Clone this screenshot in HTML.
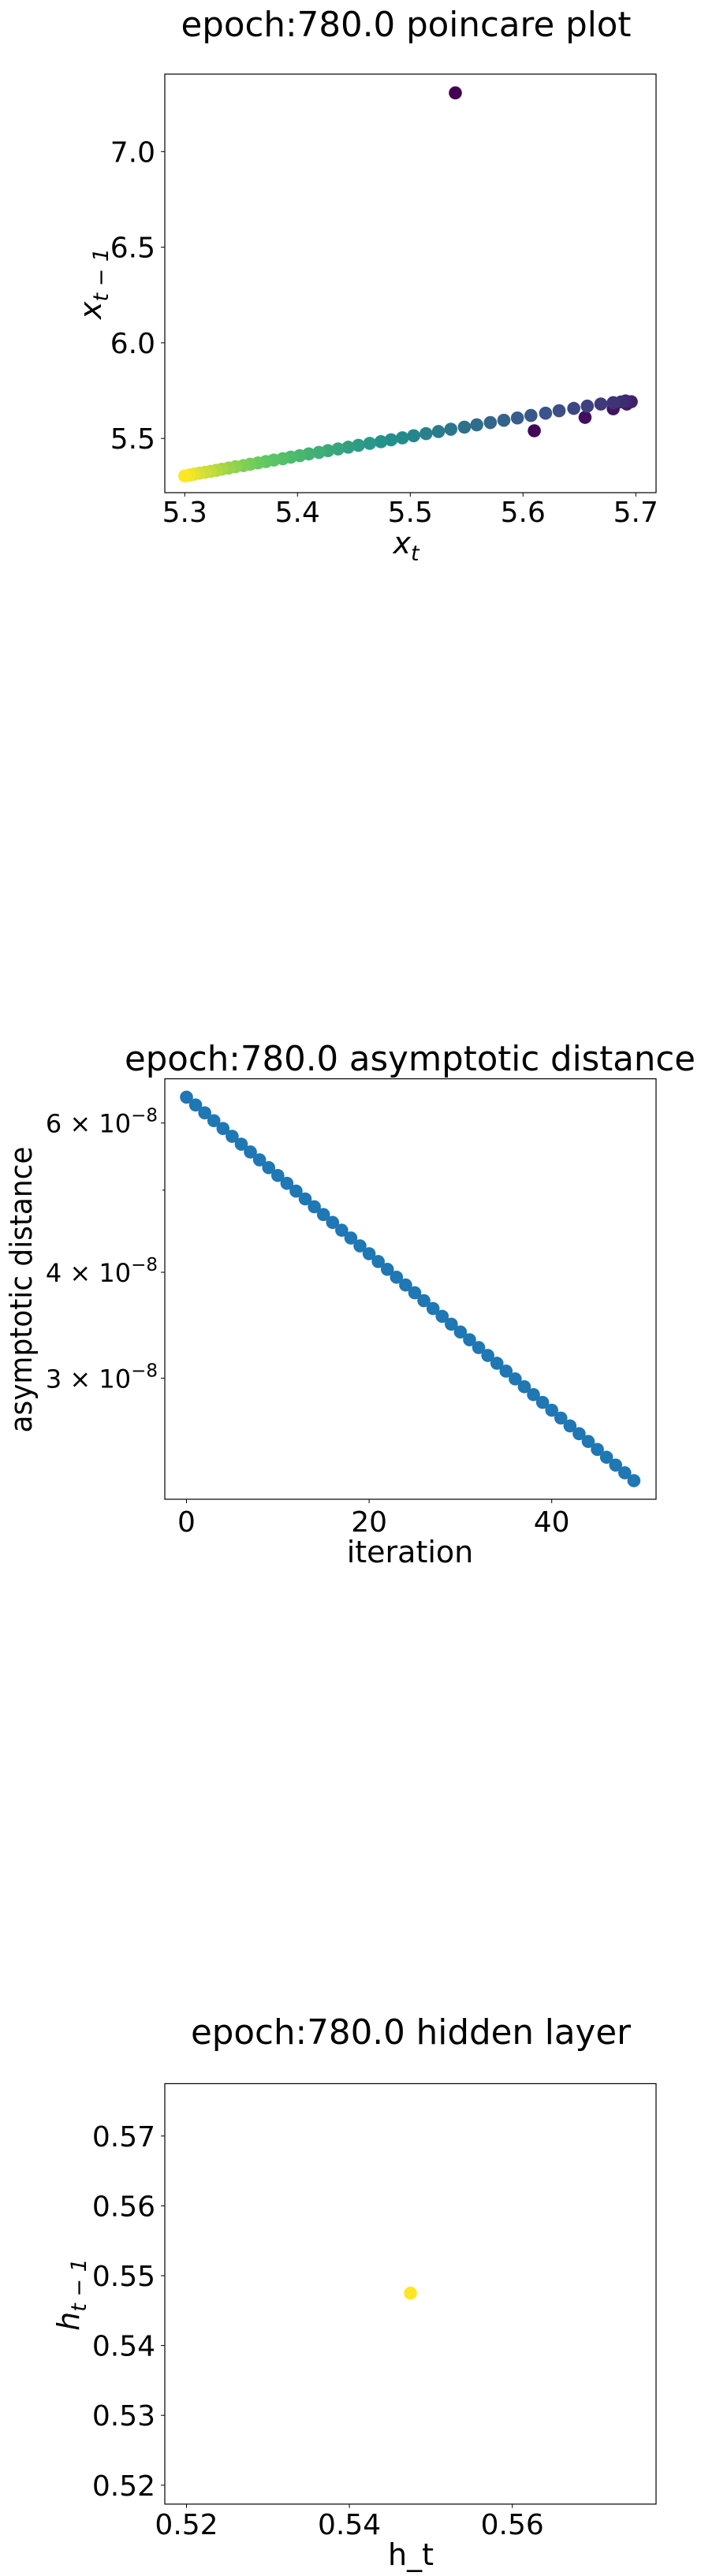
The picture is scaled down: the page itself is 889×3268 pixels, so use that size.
<!DOCTYPE html>
<html><head><meta charset="utf-8"><style>
html,body{margin:0;padding:0;background:#fff;}
svg{display:block;font-family:"DejaVu Sans","Liberation Sans",sans-serif;}
</style></head><body>
<svg width="889" height="3268" viewBox="0 0 889 3268" xmlns="http://www.w3.org/2000/svg">
<rect width="889" height="3268" fill="#fff"/>
<g id="c1"></g>
<g id="c2"></g>
<g id="c3"></g>
</svg>
<script>
// Chart 1 data: sequence x_t ; points are (x[t+1], x[t])
const poincareSeq = [7.307,5.54,5.61,5.655,5.68,5.692,5.696,5.691,5.687,5.680,5.669,5.657,5.645,5.632,5.620,5.607,5.595,5.583,5.571,5.559,5.548,5.536,5.525,5.514,5.503,5.493,5.483,5.474,5.464,5.454,5.445,5.436,5.427,5.419,5.410,5.402,5.394,5.387,5.379,5.372,5.365,5.358,5.352,5.345,5.339,5.333,5.328,5.323,5.318,5.313,5.308,5.304,5.300];
const poincareXTicks = [5.3,5.4,5.5,5.6,5.7];
const poincareXTickLabels = ["5.3","5.4","5.5","5.6","5.7"];
const poincareYTicks = [5.5,6.0,6.5,7.0];
const poincareYTickLabels = ["5.5","6.0","6.5","7.0"];
// Chart 2 data (units of 1e-8)
const distIter = [0,1,2,3,4,5,6,7,8,9,10,11,12,13,14,15,16,17,18,19,20,21,22,23,24,25,26,27,28,29,30,31,32,33,34,35,36,37,38,39,40,41,42,43,44,45,46,47,48,49];
const distValues = [6.436,6.301,6.168,6.038,5.911,5.787,5.665,5.546,5.429,5.315,5.203,5.094,4.987,4.882,4.779,4.679,4.580,4.484,4.390,4.297,4.207,4.118,4.032,3.947,3.864,3.783,3.703,3.625,3.549,3.474,3.401,3.330,3.260,3.191,3.124,3.058,2.994,2.931,2.869,2.809,2.750,2.692,2.635,2.580,2.526,2.472,2.420,2.369,2.320,2.271];
const distXTicks = [0,20,40];
const distXTickLabels = ["0","20","40"];
const distYTicks = [6,4,3];
const distYTickMant = ["6","4","3"];
const distYMinor = [5];
// Chart 3 data
const hiddenX = [0.5475];
const hiddenY = [0.5475];
const hiddenXTicks = [0.52,0.54,0.56];
const hiddenXTickLabels = ["0.52","0.54","0.56"];
const hiddenYTicks = [0.52,0.53,0.54,0.55,0.56,0.57];
const hiddenYTickLabels = ["0.52","0.53","0.54","0.55","0.56","0.57"];

const NS="http://www.w3.org/2000/svg";
function mk(parent,tag,attrs,text){const e=document.createElementNS(NS,tag);for(const k in attrs)e.setAttribute(k,attrs[k]);if(text!==undefined)e.textContent=text;parent.appendChild(e);return e;}
const vir=[[68,1,84],[59,82,139],[33,145,140],[94,201,98],[253,231,37]];
function viridis(t){t=Math.max(0,Math.min(1,t));const s=t*4,i=Math.min(3,Math.floor(s)),f=s-i;const a=vir[i],b=vir[i+1];return `rgb(${a.map((v,k)=>Math.round(v+(b[k]-v)*f)).join(',')})`;}

// ---------- Chart 1 ----------
(function(){
const g=document.getElementById('c1');
const L=209,R=832,T=94,B=625;
const X=v=>234.3+(v-5.3)*1430, Y=v=>556.2-(v-5.5)*242.6;
const t=mk(g,'text',{x:515,y:46,'font-size':44,'text-anchor':'middle',textLength:571,lengthAdjust:'spacingAndGlyphs'},'epoch:780.0 poincare plot');


const n=poincareSeq.length-1;
for(let i=0;i<n;i++){
 const c=mk(g,'circle',{cx:X(poincareSeq[i+1]),cy:Y(poincareSeq[i]),r:8.3,fill:viridis(i/(n-1))});
 
 
}
const fr=mk(g,'rect',{x:L,y:T,width:R-L,height:B-T,fill:'none',stroke:'#000','stroke-width':1.2});


poincareXTicks.forEach((v,i)=>{
 mk(g,'line',{x1:X(v),x2:X(v),y1:B,y2:B+5,stroke:'#000'});
 const l=mk(g,'text',{x:X(v),y:662,'font-size':36,'text-anchor':'middle'},poincareXTickLabels[i]);
 
 
});
poincareYTicks.forEach((v,i)=>{
 mk(g,'line',{x1:L-5,x2:L,y1:Y(v),y2:Y(v),stroke:'#000'});
 const l=mk(g,'text',{x:197,y:Y(v)+13,'font-size':36,'text-anchor':'end'},poincareYTickLabels[i]);
 
 
});
const xl=mk(g,'text',{x:515,y:702,'font-size':38,'text-anchor':'middle','font-style':'italic'});


mk(xl,'tspan',{},'x');mk(xl,'tspan',{'font-size':27,dy:9},'t');
const yl=mk(g,'text',{x:0,y:0,'font-size':38,'text-anchor':'middle','font-style':'italic',transform:'translate(128,360) rotate(-90)'});


mk(yl,'tspan',{},'x');mk(yl,'tspan',{'font-size':27,dy:9},'t − 1');
})();

// ---------- Chart 2 ----------
(function(){
const g=document.getElementById('c2');
const L=209,R=832,T=1368.6,B=1902;
const X=v=>236.5+v*11.58, Y=v=>1424.7-Math.log(v/6)*467;
const t=mk(g,'text',{x:520,y:1358,'font-size':44,'text-anchor':'middle',textLength:724,lengthAdjust:'spacingAndGlyphs'},'epoch:780.0 asymptotic distance');


distIter.forEach((it,i)=>{
 const c=mk(g,'circle',{cx:X(it),cy:Y(distValues[i]),r:8.3,fill:'#1f77b4'});
 
 
});
const fr=mk(g,'rect',{x:L,y:T,width:R-L,height:B-T,fill:'none',stroke:'#000','stroke-width':1.2});


distXTicks.forEach((v,i)=>{
 mk(g,'line',{x1:X(v),x2:X(v),y1:B,y2:B+5,stroke:'#000'});
 const l=mk(g,'text',{x:X(v),y:1943,'font-size':36,'text-anchor':'middle'},distXTickLabels[i]);
 
 
});
distYTicks.forEach((v,i)=>{
 mk(g,'line',{x1:L-5,x2:L,y1:Y(v),y2:Y(v),stroke:'#000'});
 const l=mk(g,'text',{x:200,y:Y(v)+12,'font-size':32,'text-anchor':'end'});
 
 
 mk(l,'tspan',{},distYTickMant[i]+' × 10');
 mk(l,'tspan',{'font-size':23,dy:-14},'−8');
});
distYMinor.forEach(v=>{mk(g,'line',{x1:L-3,x2:L,y1:Y(v),y2:Y(v),stroke:'#000'});});
const xl=mk(g,'text',{x:520,y:1982,'font-size':38,'text-anchor':'middle'},'iteration');


const yl=mk(g,'text',{x:0,y:0,'font-size':38,'text-anchor':'middle',textLength:363,lengthAdjust:'spacingAndGlyphs',transform:'translate(40,1636) rotate(-90)'},'asymptotic distance');


})();

// ---------- Chart 3 ----------
(function(){
const g=document.getElementById('c3');
const L=209,R=832,T=2643.4,B=3176.8;
const X=v=>236.5+(v-0.52)*10330, Y=v=>3152.8-(v-0.52)*8860;
const t=mk(g,'text',{x:521,y:2593,'font-size':44,'text-anchor':'middle',textLength:558,lengthAdjust:'spacingAndGlyphs'},'epoch:780.0 hidden layer');


hiddenX.forEach((v,i)=>{
 const c=mk(g,'circle',{cx:X(v),cy:Y(hiddenY[i]),r:8.3,fill:'#fde725'});
 
 
});
const fr=mk(g,'rect',{x:L,y:T,width:R-L,height:B-T,fill:'none',stroke:'#000','stroke-width':1.2});


hiddenXTicks.forEach((v,i)=>{
 mk(g,'line',{x1:X(v),x2:X(v),y1:B,y2:B+5,stroke:'#000'});
 const l=mk(g,'text',{x:X(v),y:3215,'font-size':36,'text-anchor':'middle'},hiddenXTickLabels[i]);
 
 
});
hiddenYTicks.forEach((v,i)=>{
 mk(g,'line',{x1:L-5,x2:L,y1:Y(v),y2:Y(v),stroke:'#000'});
 const l=mk(g,'text',{x:197,y:Y(v)+13,'font-size':36,'text-anchor':'end'},hiddenYTickLabels[i]);
 
 
});
const xl=mk(g,'text',{x:521,y:3254,'font-size':38,'text-anchor':'middle'},'h_t');


const yl=mk(g,'text',{x:0,y:0,'font-size':38,'text-anchor':'middle','font-style':'italic',transform:'translate(100,2911) rotate(-90)'});


mk(yl,'tspan',{},'h');mk(yl,'tspan',{'font-size':27,dy:9},'t − 1');
})();
</script>
</body></html>
